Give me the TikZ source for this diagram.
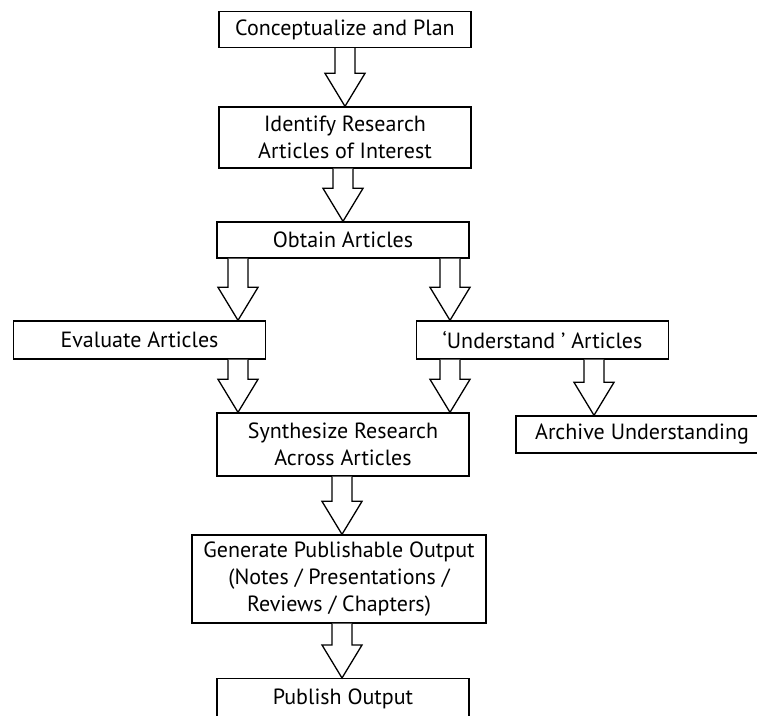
\documentclass[tikz,border=0pt]{standalone}
\usepackage{fontspec}
\setmainfont{PT Sans}
\usetikzlibrary{calc}

\tikzset{
  box/.style={draw, line width=1.3pt, minimum width=252pt, minimum height=36pt,
    align=center, inner sep=0pt, font=\fontsize{22}{27}\selectfont},
  hollow/.style={draw, fill=white, line width=1.3pt, line join=miter}
}

% hollow block arrow: #1 = x of the shaft, #2 = from node, #3 = to node
\newcommand\blockarr[3]{%
  \draw[hollow] let \p1=(#2.south), \p2=(#3.north) in
    (#1-10,\y1) -- (#1-10,\y2+33pt) -- (#1-20,\y2+33pt) -- (#1,\y2)
    -- (#1+20,\y2+33pt) -- (#1+10,\y2+33pt) -- (#1+10,\y1);}

\begin{document}
\begin{tikzpicture}[x=1pt,y=1pt]

      \clip (0,0) rectangle (757,715);

      \begin{scope}[every node/.style={box}]
        \node (plan)     at (345,685.5) {Conceptualize and Plan};
        \node (identify) at (345,577.5) [minimum height=61pt] {Identify Research\\Articles of Interest};
        \node (obtain)   at (343,475)   {Obtain Articles};
        \node (evaluate) at (139.5,375) [minimum height=38pt] {Evaluate Articles};
        \node (underst)  at (542.5,375) [minimum height=38pt] {`Understand ' Articles};
        \node (synth)    at (343,270.5) [minimum height=63pt] {Synthesize Research\\Across Articles};
        \node (archive)  at (642,280.5) [minimum height=37pt] {Archive Understanding};
        \node (generate) at (339,136)   [minimum width=294pt, minimum height=88pt]
          {Generate Publishable Output\\(Notes / Presentations /\\Reviews / Chapters)};
        % runs off the bottom edge of the page
        \node (publish)  at (343,37) [anchor=north, text height=26pt, text depth=16pt] {Publish Output};
      \end{scope}

      \blockarr{345}{plan}{identify}
      \blockarr{343}{identify}{obtain}
      \blockarr{238}{obtain}{evaluate}
      \blockarr{450}{obtain}{underst}
      \blockarr{238}{evaluate}{synth}
      \blockarr{450}{underst}{synth}
      \blockarr{594}{underst}{archive}
      \blockarr{342}{synth}{generate}
      \blockarr{342}{generate}{publish}

    \end{tikzpicture}
\end{document}
